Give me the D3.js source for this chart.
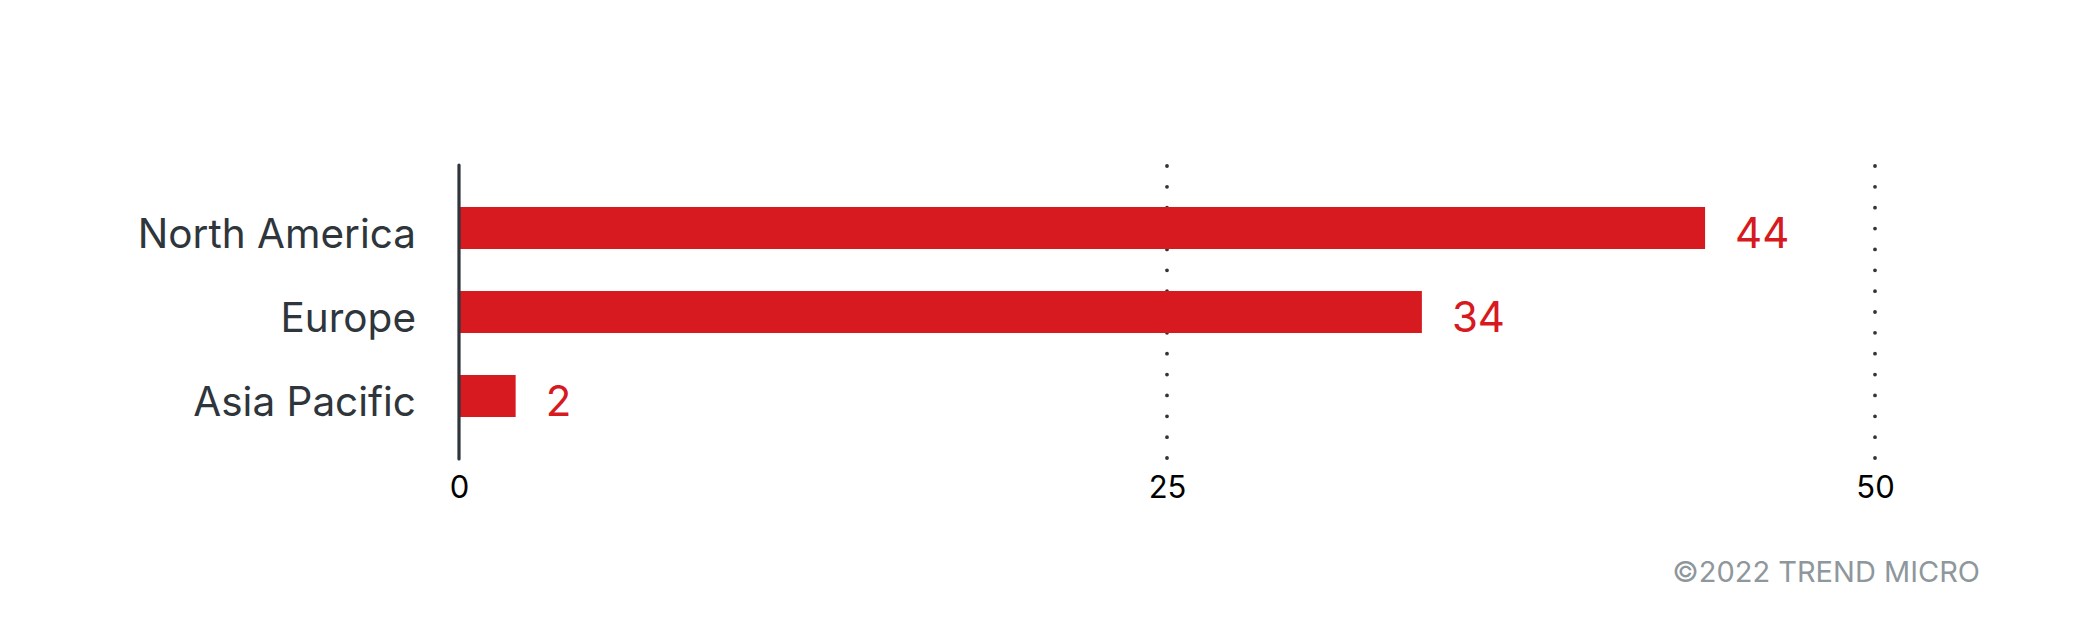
<!DOCTYPE html>
<html>
<head>
<meta charset="utf-8">
<script src="https://cdn.jsdelivr.net/npm/d3@7"></script>
<style>
  html, body { margin: 0; padding: 0; background: #fff; }
  svg { display: block; font-family: Inter, "Liberation Sans", sans-serif; }
</style>
</head>
<body>
<svg id="chart"></svg>
<script>
const categories = ['North America', 'Europe', 'Asia Pacific'];
const values = [44, 34, 2];
const tickValues = [0, 25, 50];
const credit = '©2022 TREND MICRO';

const width = 2084;
const height = 625;
const margin = { top: 165, right: 209, bottom: 166, left: 459 };

const svg = d3.select('#chart')
  .attr('width', width)
  .attr('height', height);

const x = d3.scaleLinear()
  .domain([0, 50])
  .range([margin.left, width - margin.right]);

const y = d3.scaleBand()
  .domain(categories)
  .range([margin.top, height - margin.bottom])
  .paddingInner(0.5)
  .paddingOuter(0.5);

// dotted gridlines, 15 dots each
const dotGap = (y.range()[1] - y.range()[0] - 2) / 14;
svg.append('g')
  .selectAll('line')
  .data(tickValues.filter(d => d > 0))
  .enter().append('line')
  .attr('x1', d => x(d))
  .attr('x2', d => x(d))
  .attr('y1', y.range()[0] + 1)
  .attr('y2', y.range()[1] - 0.5)
  .style('stroke', '#2e353b')
  .style('stroke-width', 3.8)
  .style('stroke-linecap', 'round')
  .style('stroke-dasharray', `0 ${dotGap}`);

// bars
svg.append('g')
  .selectAll('rect')
  .data(values)
  .enter().append('rect')
  .attr('x', x(0))
  .attr('y', (d, i) => y(categories[i]))
  .attr('width', d => x(d) - x(0))
  .attr('height', y.bandwidth())
  .style('fill', '#d71920');

// zero axis line
svg.append('line')
  .attr('x1', x(0))
  .attr('x2', x(0))
  .attr('y1', y.range()[0])
  .attr('y2', y.range()[1])
  .style('stroke', '#2e353b')
  .style('stroke-width', 3.2)
  .style('stroke-linecap', 'round');

// x tick labels
const xAxis = d3.axisBottom(x)
  .tickValues(tickValues)
  .tickSize(0)
  .tickPadding(0);

svg.append('g')
  .attr('transform', `translate(0, ${y.range()[1] + 39})`)
  .call(xAxis)
  .call(g => g.select('.domain').remove())
  .selectAll('text')
  .attr('dy', 0)
  .style('font-family', 'Inter, "Liberation Sans", sans-serif')
  .style('font-size', '31px')
  .style('fill', '#000');

// category labels
const yAxis = d3.axisLeft(y)
  .tickSize(0)
  .tickPadding(0);

svg.append('g')
  .attr('transform', `translate(${x(0) - 43}, 0)`)
  .call(yAxis)
  .call(g => g.select('.domain').remove())
  .selectAll('text')
  .attr('dy', 0)
  .attr('y', y.bandwidth() / 2 - 1)
  .style('font-family', 'Inter, "Liberation Sans", sans-serif')
  .style('font-size', '40.5px')
  .style('fill', '#2e353b');

// value labels
svg.append('g')
  .selectAll('text')
  .data(values)
  .enter().append('text')
  .attr('x', d => x(d) + 30)
  .attr('y', (d, i) => y(categories[i]) + y.bandwidth() - 1)
  .style('font-size', '42px')
  .style('fill', '#d71920')
  .text(d => d);

// credit
svg.append('text')
  .attr('x', 1980)
  .attr('y', 582)
  .style('text-anchor', 'end')
  .style('font-size', '29px')
  .style('fill', '#8e979b')
  .text(credit);
</script>
</body>
</html>
